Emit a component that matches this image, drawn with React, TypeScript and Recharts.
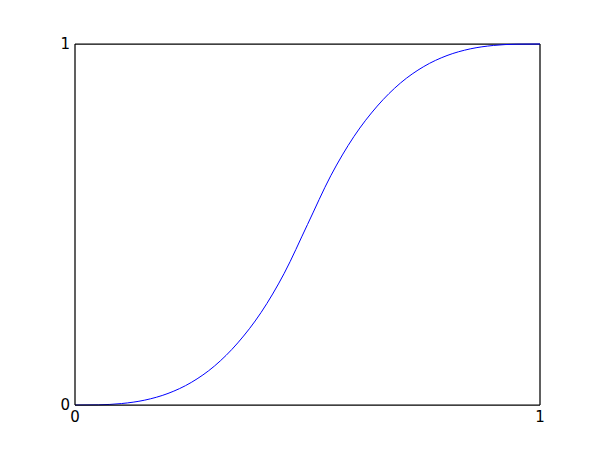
import React from "react";
import { LineChart, Line, XAxis, YAxis, ReferenceLine } from "recharts";

// values
const xs = [0, 0.05, 0.1, 0.15, 0.2, 0.25, 0.3, 0.35, 0.4, 0.45, 0.5, 0.55, 0.6, 0.65, 0.7, 0.75, 0.8, 0.85, 0.9, 0.95, 1];
const ys = [0, 0.0005, 0.004, 0.0135, 0.032, 0.0625, 0.108, 0.172, 0.256, 0.365, 0.5, 0.635, 0.744, 0.828, 0.892, 0.9375, 0.968, 0.9865, 0.996, 0.9995, 1];
const ticks = [0, 1];

const data = xs.map((x, i) => ({ x, y: ys[i] }));

const font = { fontFamily: "DejaVu Sans", fontSize: 15, fill: "#000" };
const frame = { stroke: "#000", strokeWidth: 1.25 };

export default function App() {
  return (
    <div style={{ position: "absolute", left: 0, top: 0, background: "#fff" }}>
      <LineChart width={600} height={450} data={data} margin={{ top: 44, right: 60, bottom: 0, left: 0 }}>
        <XAxis
          dataKey="x"
          type="number"
          domain={[0, 1]}
          ticks={ticks}
          height={45}
          tickSize={0}
          tickMargin={6}
          tickLine={false}
          axisLine={frame}
          tick={font}
          interval={0}
        />
        <YAxis
          type="number"
          domain={[0, 1]}
          ticks={ticks}
          width={75}
          tickSize={0}
          tickMargin={5}
          tickLine={false}
          axisLine={frame}
          tick={font}
          interval={0}
        />
        <ReferenceLine y={1} {...frame} ifOverflow="visible" />
        <ReferenceLine x={1} {...frame} ifOverflow="visible" />
        <Line type="monotone" dataKey="y" stroke="#0000ff" strokeWidth={1} dot={false} isAnimationActive={false} />
      </LineChart>
    </div>
  );
}
